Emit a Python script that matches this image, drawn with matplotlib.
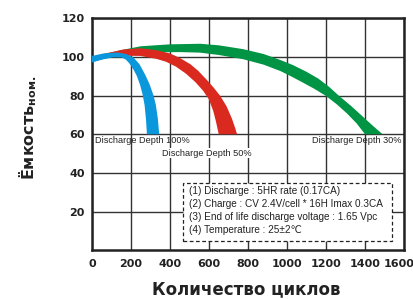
import matplotlib
matplotlib.use("Agg")
import matplotlib.pyplot as plt
import matplotlib.transforms as mtransforms
from matplotlib.patches import Rectangle

plt.rcParams['font.family'] = ['Liberation Sans', 'DejaVu Sans']
plt.rcParams['mathtext.fontset'] = 'custom'
plt.rcParams['mathtext.rm'] = 'DejaVu Sans:bold'
plt.rcParams['mathtext.it'] = 'DejaVu Sans:bold'
plt.rcParams['mathtext.bf'] = 'DejaVu Sans:bold'

# bands: outer edge (upper/right) and inner edge (lower/left), cycles vs capacity %
blue_out_x = [0, 60, 130, 175, 213, 244, 273, 295, 316, 328, 338, 345]
blue_out_y = [100.5, 101.8, 102.3, 101.5, 99.7, 96.2, 90.8, 86, 80, 75, 68, 60]
blue_in_x = [0, 60, 110, 154, 175, 193, 213, 231, 247, 260, 270, 277, 282]
blue_in_y = [97.1, 98.8, 99.8, 99.7, 98.5, 96.5, 93.5, 90, 85.5, 80.5, 75, 68, 60]

red_out_x = [0, 80, 160, 248, 330, 400, 450, 505, 545, 590, 625, 658, 690, 718, 735, 744]
red_out_y = [100, 102, 103.8, 104.5, 103.5, 101.8, 99.5, 96.2, 92.8, 88, 84, 79.8, 74.5, 68, 63, 60]
red_in_x = [0, 80, 160, 248, 330, 380, 430, 480, 530, 570, 600, 622, 636, 650]
red_in_y = [98.8, 100, 100.6, 100.5, 99, 97.5, 95, 91.5, 87, 82.5, 78, 72, 66.5, 60]

green_out_x = [0, 150, 250, 400, 555, 650, 776, 880, 966, 1030, 1100, 1160, 1215, 1265, 1330,
               1390, 1442, 1490]
green_out_y = [100, 103.5, 105.5, 106.5, 106.8, 106, 104, 101.5, 98.4, 95.8, 92.3, 88.8, 84.6, 80,
               74.5, 69, 64.2, 60]
green_in_x = [0, 150, 300, 450, 555, 650, 776, 880, 966, 1020, 1080, 1140, 1200, 1255, 1307,
              1357, 1400]
green_in_y = [97.6, 101, 102.3, 102.5, 102.2, 101, 98.8, 96, 92.7, 90, 86.8, 83.5, 79.8, 75.5,
              70.8, 65.6, 60]

x_ticks = [0, 200, 400, 600, 800, 1000, 1200, 1400, 1600]
y_ticks = [20, 40, 60, 80, 100, 120]

notes = ["(1) Discharge : 5HR rate (0.17CA)",
         "(2) Charge : CV 2.4V/cell * 16H Imax 0.3CA",
         "(3) End of life discharge voltage : 1.65 Vpc",
         "(4) Temperature : 25±2℃"]

fig = plt.figure(figsize=(4.14, 2.99), dpi=100)
ax = fig.add_axes([0.222, 0.163, 0.754, 0.776])

def band(xo, yo, xi, yi, color):
    ax.fill(list(xo) + list(reversed(xi)), list(yo) + list(reversed(yi)),
            color=color, lw=0, zorder=3)

band(green_out_x, green_out_y, green_in_x, green_in_y, '#009444')
band(red_out_x, red_out_y, red_in_x, red_in_y, '#da2a1f')
band(blue_out_x, blue_out_y, blue_in_x, blue_in_y, '#0b97db')

ax.set_xlim(0, 1600)
ax.set_ylim(0, 120)
ax.set_xticks(x_ticks)
ax.set_yticks(y_ticks)
ax.grid(True, color='#333333', lw=1.0, zorder=1)
ax.set_axisbelow(True)
ax.tick_params(length=0, labelsize=8)
ax.tick_params(axis='x', pad=6)
ax.tick_params(axis='y', pad=5)
for lab in ax.get_xticklabels() + ax.get_yticklabels():
    lab.set_fontweight('bold')
    lab.set_family('DejaVu Sans')
    lab.set_color('#222222')
last = ax.get_xticklabels()[-1]
last.set_transform(last.get_transform() + mtransforms.ScaledTranslation(-0.05, 0, fig.dpi_scale_trans))
for s in ax.spines.values():
    s.set_linewidth(1.8)
    s.set_color('#222222')

ax.text(15, 55.5, "Discharge Depth 100%", fontsize=6.6, color='#222222', zorder=4)
ax.text(360, 49, "Discharge Depth 50%", fontsize=6.6, color='#222222', zorder=4,
        bbox=dict(fc='white', ec='none', pad=0.5))
ax.text(1585, 55.5, "Discharge Depth 30%", fontsize=6.6, color='#222222', ha='right', zorder=4)

ax.add_patch(Rectangle((465, 5), 1075, 30, fc='white', ec='#222222', ls=(0, (3, 2)),
                       lw=0.9, zorder=5))
for i, line in enumerate(notes):
    ax.text(500, 30.5 - i * 6.6, line, fontsize=7.2, color='#222222', va='center', zorder=6)

fig.text(246 / 414, 1 - 289 / 299, "Количество циклов", fontsize=12, fontweight='bold',
         family='DejaVu Sans', color='#222222', ha='center', va='center')
fig.text(28 / 414, 1 - 127.5 / 299, "Ёмкость$_{ном.}$", fontsize=11.5, fontweight='bold',
         family='DejaVu Sans', color='#222222', ha='center', va='center', rotation=90)

fig.savefig("out.png", dpi=100)
